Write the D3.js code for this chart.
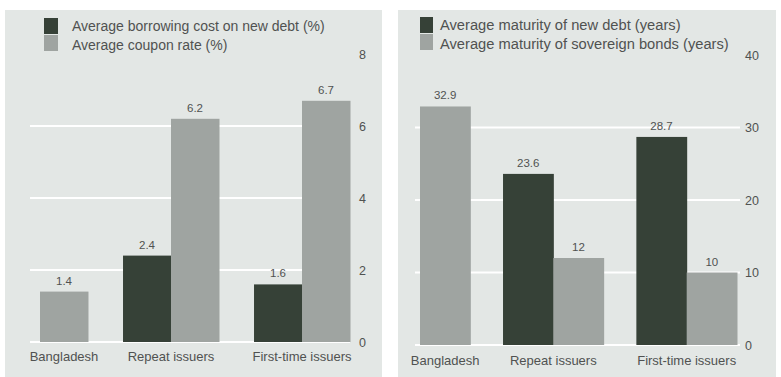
<!DOCTYPE html>
<html>
<head>
<meta charset="utf-8">
<script src="https://cdn.jsdelivr.net/npm/d3@7"></script>
<style>
  html, body { margin: 0; padding: 0; background: #ffffff; }
  svg { display: block; }
  text { font-family: "Liberation Sans", Arial, sans-serif; fill: #505251; }
</style>
</head>
<body>
<svg id="chart" width="781" height="377"></svg>
<script>
// Issuer groups shared by both panels
const categories = ["Bangladesh", "Repeat issuers", "First-time issuers"];

// Left panel: cost of borrowing (%)
const borrowingCost = [null, 2.4, 1.6];
const couponRate = [1.4, 6.2, 6.7];
const costTicks = [0, 2, 4, 6, 8];
const costLegend = ["Average borrowing cost on new debt (%)", "Average coupon rate (%)"];

// Right panel: maturity (years)
const maturityNewDebt = [null, 23.6, 28.7];
const maturityBonds = [32.9, 12, 10];
const maturityTicks = [0, 10, 20, 30, 40];
const maturityLegend = ["Average maturity of new debt (years)", "Average maturity of sovereign bonds (years)"];

const DARK = "#364137";
const LIGHT = "#9fa4a1";
const PANEL = "#e3e7e5";

const svg = d3.select("#chart");

function panel(cfg) {
  const g = svg.append("g");

  g.append("rect")
    .attr("x", cfg.box[0]).attr("y", cfg.box[1])
    .attr("width", cfg.box[2]).attr("height", cfg.box[3])
    .attr("fill", PANEL);

  const y = d3.scaleLinear().domain(cfg.domain).range([cfg.y0, cfg.y1]);

  // white gridlines
  g.selectAll("line.grid")
    .data(cfg.ticks.filter(t => t < cfg.domain[1]))
    .join("line")
    .attr("class", "grid")
    .attr("x1", cfg.gridX[0]).attr("x2", cfg.gridX[1])
    .attr("y1", d => y(d)).attr("y2", d => y(d))
    .attr("stroke", "#ffffff").attr("stroke-width", 2);

  // tick labels on the right
  const axis = d3.axisRight(y).tickValues(cfg.ticks).tickSize(0).tickPadding(0);
  const ag = g.append("g")
    .attr("transform", `translate(${cfg.tickX},0)`)
    .call(axis);
  ag.select(".domain").remove();
  ag.selectAll("text")
    .style("font-size", "12.5px")
    .attr("fill", "#505251")
    .style("font-family", "Liberation Sans, Arial, sans-serif");

  // bar layout: each group is as wide as its number of bars, with fixed gaps
  const groups = categories.map((c, i) => {
    const bars = [];
    if (cfg.dark[i] != null) bars.push({ v: cfg.dark[i], color: DARK });
    if (cfg.light[i] != null) bars.push({ v: cfg.light[i], color: LIGHT });
    return { name: c, bars };
  });
  let pos = 0;
  groups.forEach((grp, i) => {
    if (i > 0) pos += cfg.gap;
    grp.start = pos;
    grp.bars.forEach((b, j) => { b.u = pos + j; });
    pos += grp.bars.length;
    grp.end = pos;
  });
  const x = d3.scaleLinear().domain([0, pos]).range(cfg.barX);
  const bw = x(1) - x(0);

  const all = groups.flatMap(grp => grp.bars);
  g.selectAll("rect.bar")
    .data(all)
    .join("rect")
    .attr("class", "bar")
    .attr("x", d => x(d.u))
    .attr("width", bw + 0.5)
    .attr("y", d => y(d.v))
    .attr("height", d => y(0) - y(d.v))
    .attr("fill", d => d.color);

  g.selectAll("text.val")
    .data(all)
    .join("text")
    .attr("class", "val")
    .attr("x", d => x(d.u + 0.5))
    .attr("y", d => y(d.v) - 7)
    .attr("text-anchor", "middle")
    .style("font-size", "11.5px")
    .text(d => d.v);

  g.selectAll("text.cat")
    .data(groups)
    .join("text")
    .attr("class", "cat")
    .attr("x", d => x((d.start + d.end) / 2))
    .attr("y", cfg.catY)
    .attr("text-anchor", "middle")
    .style("font-size", "13px")
    .text(d => d.name);

  // legend
  const lg = g.append("g");
  [DARK, LIGHT].forEach((c, i) => {
    lg.append("rect")
      .attr("x", cfg.legX).attr("y", cfg.legY + i * 17)
      .attr("width", cfg.swW).attr("height", 16)
      .attr("fill", c);
    lg.append("text")
      .attr("x", cfg.legTextX).attr("y", cfg.legY + 13 + i * 19)
      .style("font-size", cfg.legFont)
      .text(cfg.legend[i]);
  });
}

panel({
  box: [5, 10, 377, 367],
  domain: [0, 8], y0: 342, y1: 54,
  ticks: costTicks, tickX: 359,
  gridX: [30, 350],
  dark: borrowingCost, light: couponRate,
  gap: 0.73, barX: [40, 350],
  catY: 361,
  legend: costLegend, legX: 44, legY: 18, swW: 14, legTextX: 72, legFont: "14px"
});

panel({
  box: [398, 10, 378, 367],
  domain: [0, 40], y0: 345, y1: 55,
  ticks: maturityTicks, tickX: 745,
  gridX: [415, 740],
  dark: maturityNewDebt, light: maturityBonds,
  gap: 0.65, barX: [420, 737],
  catY: 365,
  legend: maturityLegend, legX: 420, legY: 17, swW: 13, legTextX: 440, legFont: "14.7px"
});
</script>
</body>
</html>
